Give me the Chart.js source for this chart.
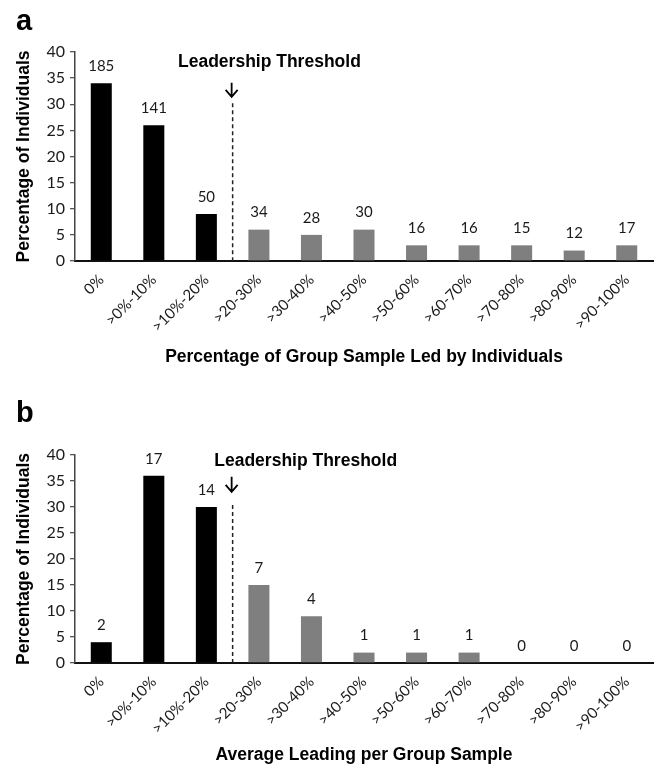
<!DOCTYPE html>
<html><head><meta charset="utf-8">
<script src="https://cdn.jsdelivr.net/npm/chart.js@4"></script>
<style>
body{margin:0;background:#fff;}
.wrap{position:relative;width:658px;height:770px;background:#fff;}
canvas{position:absolute;left:0;}
</style>
</head><body>
<div class="wrap">
<canvas id="ca" width="658" height="385" style="top:0;width:658px;height:385px"></canvas>
<canvas id="cb" width="658" height="385" style="top:385px;width:658px;height:385px"></canvas>
</div>
<script>
// ---- data ----
const categories = ['0%', '>0%-10%', '>10%-20%', '>20-30%', '>30-40%', '>40-50%', '>50-60%', '>60-70%', '>70-80%', '>80-90%', '>90-100%'];
const percentA = [34, 26, 9, 6, 5, 6, 3, 3, 3, 2, 3];
const countsA = [185, 141, 50, 34, 28, 30, 16, 16, 15, 12, 17];
const percentB = [4, 36, 30, 15, 9, 2, 2, 2, 0, 0, 0];
const countsB = [2, 17, 14, 7, 4, 1, 1, 1, 0, 0, 0];
const yMin = 0, yMax = 40, yStep = 5;
const thresholdIndex = 2.5;
const thresholdLabel = 'Leadership Threshold';
const yTitle = 'Percentage of Individuals';
const xTitleA = 'Percentage of Group Sample Led by Individuals';
const xTitleB = 'Average Leading per Group Sample';

// ---- styles ----
const TICK_FONT = 'Lato';
const TITLE_FONT = '"Liberation Sans", Arial, sans-serif';
const LEADER_COLOR = '#000000';
const OTHER_COLOR = '#7f7f7f';

const annot = {
  a: {letter: 'a', letterY: 30, textX: 3.20, textY: 38.1, arrowTop: 34.1, arrowBottom: 31.4, dashTop: 30.2},
  b: {letter: 'b', letterY: 37, textX: 3.89, textY: 38.8, arrowTop: 35.8, arrowBottom: 32.9, dashTop: 30.4}
};

const overlay = {
  id: 'overlay',
  afterDatasetsDraw(chart, args, o) {
    const ctx = chart.ctx;
    const xs = chart.scales.x, ys = chart.scales.y;
    const meta = chart.getDatasetMeta(0);
    ctx.save();
    // value labels
    ctx.fillStyle = '#1a1a1a';
    ctx.font = '15px ' + TICK_FONT;
    ctx.textAlign = 'center';
    ctx.textBaseline = 'middle';
    meta.data.forEach((bar, i) => {
      ctx.fillText(String(o.counts[i]), bar.x, bar.y - 17);
    });
    // threshold dashed line
    const tx = xs.getPixelForValue(thresholdIndex);
    ctx.strokeStyle = '#222';
    ctx.lineWidth = 1.5;
    ctx.setLineDash([4, 3]);
    ctx.beginPath();
    ctx.moveTo(tx, ys.getPixelForValue(o.a.dashTop));
    ctx.lineTo(tx, ys.getPixelForValue(0));
    ctx.stroke();
    ctx.setLineDash([]);
    // arrow
    const at = ys.getPixelForValue(o.a.arrowTop), ab = ys.getPixelForValue(o.a.arrowBottom);
    const ax = tx - 1;
    ctx.lineWidth = 1.8;
    ctx.strokeStyle = '#000';
    ctx.beginPath();
    ctx.moveTo(ax, at);
    ctx.lineTo(ax, ab);
    ctx.moveTo(ax - 6, ab - 7);
    ctx.lineTo(ax, ab);
    ctx.lineTo(ax + 6, ab - 7);
    ctx.stroke();
    // threshold text
    ctx.fillStyle = '#000';
    ctx.font = 'bold 17.5px ' + TITLE_FONT;
    ctx.fillText(thresholdLabel, xs.getPixelForValue(o.a.textX), ys.getPixelForValue(o.a.textY));
    // panel letter
    ctx.font = 'bold 29px ' + TITLE_FONT;
    ctx.textAlign = 'left';
    ctx.textBaseline = 'alphabetic';
    ctx.fillText(o.a.letter, 16, o.a.letterY);
    ctx.restore();
  }
};

function makeChart(id, values, counts, xTitle, a, topPad, xHeight, xTitlePad) {
  const colors = values.map((v, i) => i < thresholdIndex ? LEADER_COLOR : OTHER_COLOR);
  return new Chart(document.getElementById(id), {
    type: 'bar',
    data: {
      labels: categories,
      datasets: [{data: values, backgroundColor: colors, borderWidth: 0,
                   barPercentage: 0.4, categoryPercentage: 1.0}]
    },
    options: {
      responsive: false,
      animation: false,
      devicePixelRatio: 1,
      layout: {padding: {top: topPad, right: 5, left: 0, bottom: 0}},
      plugins: {legend: {display: false}, tooltip: {enabled: false},
                overlay: {counts: counts, a: a}},
      scales: {
        x: {
          grid: {display: false, drawTicks: false},
          border: {display: true, color: '#111', width: 2},
          ticks: {color: '#1a1a1a', font: {family: TICK_FONT, size: 15},
                  maxRotation: 45, minRotation: 45, padding: 10, autoSkip: false},
          title: {display: true, text: xTitle, color: '#000',
                  font: {family: TITLE_FONT, size: 17.5, weight: 'bold'},
                  padding: {top: 0, bottom: xTitlePad}},
          afterFit(s) { s.height = xHeight; }
        },
        y: {
          min: yMin, max: yMax,
          ticks: {stepSize: yStep, color: '#1a1a1a', font: {family: TICK_FONT, size: 16}, padding: 5},
          grid: {drawOnChartArea: false, drawTicks: true, tickLength: 5, color: '#555', lineWidth: 1.3},
          border: {display: true, color: '#444', width: 1.5},
          title: {display: true, text: yTitle, color: '#000',
                  font: {family: TITLE_FONT, size: 17.5, weight: 'bold'},
                  padding: {top: 14, bottom: 0}},
          afterFit(s) { s.width = 75; }
        }
      }
    },
    plugins: [overlay]
  });
}

makeChart('ca', percentA, countsA, xTitleA, annot.a, 52, 124, 17.5);
makeChart('cb', percentB, countsB, xTitleB, annot.b, 70, 107, 4.5);
</script>
</body></html>
